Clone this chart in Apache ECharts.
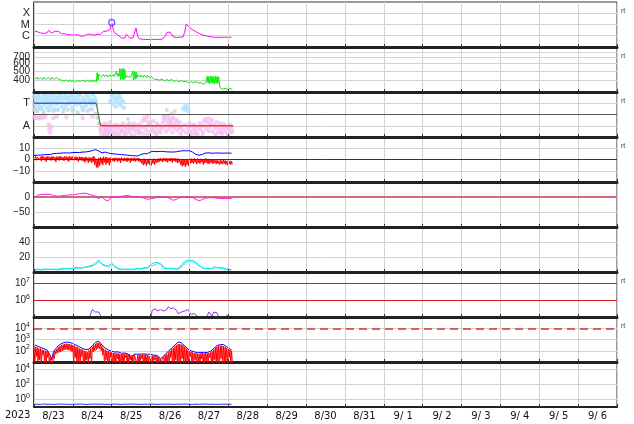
<!DOCTYPE html>
<html>
<head>
<meta charset="utf-8">
<script src="https://cdn.jsdelivr.net/npm/echarts@6.0.0/dist/echarts.min.js"></script>
<style>
html,body{margin:0;padding:0;background:#fff;}
#chart{width:634px;height:424px;}
</style>
</head>
<body>
<div id="chart"></div>
<script>
// ================= DATA =================
// time is counted in hours from 2023-08-23 00 UT
const yearLabel = '2023';
const dayLabels = ['8/23','8/24','8/25','8/26','8/27','8/28','8/29','8/30','8/31','9/ 1','9/ 2','9/ 3','9/ 4','9/ 5','9/ 6'];

// Panel 1: X-ray flux (W/m2), hourly
const xrayFlux = [
 2.7e-6,2.5e-6,2.3e-6,2.0e-6,1.8e-6,1.7e-6,1.6e-6,1.7e-6,1.8e-6,3.0e-6,
 2.0e-6,1.7e-6,1.5e-6,2.5e-6,2.0e-6,2.5e-6,1.7e-6,1.5e-6,1.35e-6,1.5e-6,
 1.35e-6,1.2e-6,1.35e-6,1.2e-6,1.1e-6,1.2e-6,1.35e-6,1.2e-6,1.1e-6,9e-7,
 9e-7,1.0e-6,1.1e-6,1.35e-6,1.7e-6,1.35e-6,1.2e-6,1.1e-6,1.2e-6,1.35e-6,
 1.2e-6,1.35e-6,1.7e-6,2.5e-6,3.0e-6,2.5e-6,3.4e-6,3.7e-6,1.5e-5,3.0e-6,
 1.7e-6,1.2e-6,1.1e-6,8e-7,6.5e-7,6.5e-7,6e-7,1.35e-6,1.1e-6,6.5e-7,
 6e-7,6e-7,6.5e-7,4.9e-6,9e-7,5.3e-7,5e-7,4.9e-7,4.8e-7,4.7e-7,
 4.8e-7,4.6e-7,4.7e-7,4.8e-7,4.6e-7,4.7e-7,4.9e-7,4.8e-7,4.7e-7,4.8e-7,
 5e-7,9e-7,2.0e-6,1.35e-6,2.1e-6,1.7e-6,8e-7,7.3e-7,7e-7,7.3e-7,
 7.5e-7,7.3e-7,7.5e-7,2.0e-6,1.05e-5,7.7e-6,5.6e-6,4.3e-6,3.4e-6,2.6e-6,
 2.25e-6,1.8e-6,1.6e-6,1.35e-6,1.2e-6,1.1e-6,1.0e-6,9e-7,8.5e-7,8e-7,
 7.8e-7,7.5e-7,7.3e-7,7.5e-7,7.3e-7,7.6e-7,7.4e-7,7.3e-7,7.5e-7,7.3e-7,
 7.2e-7,7.3e-7,7.4e-7
];
const flareMarks = [[48, 1.5e-5]];
const xrayClassVals = [1e-6, 1e-5, 1e-4];
const xrayClassText = ['C', 'M', 'X'];

// Panel 2: solar wind speed (km/s), hourly max / min
const speedHi = [
 432,428,430,425,428,424,430,426,422,428,425,430,424,420,426,422,
 405,402,406,400,404,398,403,400,405,399,402,397,404,400,398,403,399,401,397,402,400,404,398,
 482,465,
 458,455,460,452,456,450,455,452,458,454,
 500,472,532,528,535,522,
 448,445,450,442,
 502,495,490,
 455,452,454,450,452,448,450,446,448,
 425,420,
 412,410,414,408,411,407,410,406,409,405,408,
 400,398,401,397,399,396,398,395,
 390,388,391,386,389,385,387,384,386,
 378,375,377,374,
 442,438,445,440,436,442,438,435,
 333,330,332,328,330,327,329,326
];
const speedLo = [
 410,412,408,414,410,406,412,408,405,410,406,412,407,404,409,405,
 388,386,390,384,388,383,387,385,389,383,386,382,388,384,382,387,383,385,381,386,384,388,382,
 400,445,
 436,432,438,430,434,428,433,430,436,432,
 440,440,405,410,402,418,
 432,430,434,428,
 405,408,420,
 435,432,434,430,432,428,430,426,428,
 410,406,
 398,396,400,394,397,393,396,392,395,391,394,
 388,386,389,385,387,384,386,383,
 378,376,379,374,377,373,375,372,374,
 366,363,365,362,
 372,368,375,370,366,372,368,365,
 322,320,323,318,321,318,320,317
];
const speedLabelVals = [400, 500, 600, 700];
const speedGridVals = [400, 500, 600, 700, 800];

// Panel 3: sector polarity (T = +1, A = -1) and IMF direction dots [hour, value]
const sectorHours = [0, 38.5, 41, 123];
const sectorPolarity = [1, 1, -1, -1];
const sectorLabelVals = [-1, 1];
const sectorLabelText = ['A', 'T'];
const towardDots = [
 [0,1.5],[0,0.9],[0.5,1.8],[1,1.2],[1,0.6],[1.5,1.6],[2,1.0],[2.5,1.4],[3,0.8],[3,1.7],[4,1.3],[4.5,0.7],
 [5,1.5],[5.5,1.1],[6,1.8],[6.5,0.9],[7,1.4],[7.5,1.2],[8,0.6],[8.5,1.6],[9,1.0],[9.5,1.9],[10,1.3],[10.5,0.8],
 [11,1.5],[11.5,1.1],[12,1.7],[12.5,0.5],[13,1.2],[13.5,1.4],[14,0.9],[14.5,1.6],[15,1.1],[16,1.8],[16.5,1.3],
 [17,0.7],[17.5,1.5],[18,1.0],[19,1.4],[19.5,1.7],[20,0.8],[21,1.2],[21.5,1.5],[22,1.0],[23,1.3],[23.5,0.6],
 [24,1.6],[25,1.1],[25,1.95],[25.5,1.4],[26,0.9],[27,1.3],[27,1.9],[27.5,1.7],[28,1.0],[29,1.2],[29.5,0.7],[30,1.5],
 [31,1.1],[31.5,1.3],[32,0.8],[33,1.4],[33.5,1.0],[34,1.6],[35,1.2],[35.5,0.9],[36,1.3],[37,1.1],[37.5,1.5],[38,0.9],
 [0.8,0.5],[2.2,1.9],[3.6,0.55],[5.2,0.45],[6.8,1.65],[8.2,1.35],[9.8,0.45],[11.2,1.85],[12.8,1.0],[14.2,0.4],
 [15.6,1.5],[17.2,1.9],[18.6,0.5],[20.4,1.45],[22.6,1.75],[24.4,0.45],[26.6,1.55],[28.4,1.8],[30.6,0.5],
 [32.4,1.75],[34.4,0.45],[36.4,1.8],[38.3,1.2],
 [47,1.2],[48,1.7],[48.5,0.9],[49,1.4],[49.5,1.8],[50,1.1],[50.5,0.7],[51,1.5],[51.5,1.3],[52,1.9],[52.5,1.0],
 [53,1.6],[53.5,0.8],[54,1.3],[55,1.1],[55.5,0.6],
 [92,0.5],[93,0.7],[93.5,0.4],[94,0.8],[95,0.6],[95.5,0.3]
];
const grayDots = [
 [0,0.4],[2,0.3],[4,0.5],[6,0.2],[9,0.35],[12,0.3],[15,0.45],[18,0.25],[21,0.4],[24,0.3],[27,0.2],[30,0.35],
 [33,0.3],[36,0.45],[38,0.1],[39,-0.3],[40,-0.8],[41,-1.4],[43,-1.8],[44,-1.3],[45,-1.9],[46,-1.6],[48,-1.85],
 [50,-1.7],[52,-1.9],[54,-1.5],[56,-1.8],[58,-0.4],[59,-0.8],[60,-1.2],[62,-1.9],[65,-1.7],[70,-1.8],[75,-1.6],
 [80,-0.2],[82,0.4],[83,-0.1],[84,-0.5],[85,0.1],[86,-0.3],[87,0.3],[88,-0.6],[90,-1.2],[96,-1.8],[100,-1.7],
 [104,-1.9],[108,-1.5],[112,-1.8],[116,-1.6],[120,-1.9]
];
const awayDots = [
 [0,-0.2],[1,-0.3],[2,-0.15],[3,-0.35],[4,-0.2],[5,-0.3],[6,-0.1],[7,-0.25],[9,-0.9],[9.5,-1.3],[10,-1.6],[10.5,-1.1],
 [12,-0.3],[14,-0.2],[20,-0.25],[30,-0.3],[36,-0.2],
 [41,-1.2],[41.5,-1.7],[42,-0.9],[42.5,-1.5],[43,-1.1],[43.5,-1.8],[44,-0.8],[44.5,-1.4],[45,-1.6],[45.5,-1.0],
 [46,-1.3],[46.5,-1.9],[47,-0.7],[47.5,-1.2],[48,-1.5],[49,-1.0],[49.5,-1.7],[50,-1.3],[51,-0.9],[51.5,-1.6],
 [52,-1.2],[53,-1.8],[53.5,-1.0],[54,-1.4],[55,-0.8],[55.5,-1.5],[56,-1.1],[57,-1.7],[57.5,-1.3],[58,-0.9],
 [59,-1.5],[59.5,-1.1],[60,-1.8],[61,-1.2],[61.5,-0.8],[62,-1.4],[63,-1.0],[63.5,-1.6],[64,-1.3],[65,-0.9],
 [65.5,-1.5],[66,-1.1],[67,-0.6],[67.5,-1.7],[68,-0.3],[68.5,-1.2],[69,-0.5],[69.5,-1.4],[70,-0.2],[70.5,-1.0],
 [71,-0.7],[71.5,-1.6],[72,-0.9],[73,-1.3],[73.5,-0.6],[74,-1.5],[75,-1.1],[75.5,-1.8],[76,-0.8],[77,-1.4],
 [77.5,-1.0],[78,-1.6],[79,-1.2],[79.5,-0.7],[80,-0.3],[80.5,-1.1],[81,-0.5],[81.5,-1.5],[82,-0.2],[82.5,-0.9],
 [83,-0.6],[83.5,-1.3],[84,-0.4],[84.5,-1.0],[85,-0.7],[85.5,-1.6],[86,-0.3],[86.5,-1.2],[87,-0.8],[88,-0.5],
 [88.5,-1.4],[89,-1.0],[90,-0.7],[90.5,-1.7],[91,-1.1],[92,-1.4],[93,-0.9],[94,-1.6],[95,-1.2],[96,-0.8],
 [96.5,-1.5],[97,-1.0],[98,-1.7],[98.5,-1.3],[99,-0.9],[100,-1.5],[100.5,-1.1],[101,-1.8],[102,-1.2],[102.5,-0.8],
 [103,-1.4],[104,-1.0],[104.5,-1.6],[105,-0.6],[106,-0.4],[106.5,-1.3],[107,-0.7],[108,-0.35],[108.5,-1.1],
 [109,-0.8],[110,-0.5],[110.5,-1.5],[111,-0.9],[112,-1.2],[113,-0.7],[113.5,-1.6],[114,-1.1],[115,-1.4],
 [115.5,-0.8],[116,-1.7],[117,-1.2],[117.5,-0.9],[118,-1.5],[119,-1.1],[119.5,-1.8],[120,-1.3],[121,-0.9],
 [121.5,-1.6],[122,-1.2],[122.5,-1.5]
];

// Panel 4: IMF Bt and Bz (nT), hourly (Bz as hourly max/min)
const btValues = [
 3.6,3.9,3.8,4.1,4.0,4.3,4.2,4.5,4.4,4.6,4.5,4.8,
 5.2,5.0,5.4,5.3,5.6,5.5,5.8,5.6,5.9,6.0,5.8,6.1,6.2,6.0,6.3,6.5,6.2,6.4,6.6,6.5,6.7,
 6.9,7.2,7.6,7.9,8.3,8.8,9.0,
 7.5,6.2,5.9,6.4,6.6,6.1,5.7,
 5.3,5.2,5.0,4.9,4.8,4.6,4.5,4.4,4.2,4.1,4.0,3.8,3.7,3.5,3.4,3.3,3.2,3.1,3.3,
 4.5,5.3,5.2,5.4,5.1,5.6,
 6.8,7.2,7.3,7.1,7.0,7.3,7.2,6.9,7.1,7.0,6.8,6.9,6.7,6.8,6.6,
 6.7,6.9,7.1,7.4,7.6,7.8,8.0,7.7,7.5,7.8,7.2,6.5,
 4.8,4.5,4.0,3.8,3.9,4.6,
 5.6,5.8,5.7,5.9,5.8,5.6,5.8,5.7,5.9,5.8,5.7,5.6,5.8,5.7,5.6,5.7,5.6,5.6
];
const bzHi = [
 2.5,3.0,2.2,2.8,2.4,3.1,2.6,2.0,2.9,2.5,2.3,2.8,2.6,2.1,2.7,2.4,3.0,2.5,2.2,2.8,2.6,2.3,2.9,2.4,2.7,2.2,2.6,2.0,2.5,2.3,
 2.2,1.8,2.4,1.5,2.0,1.6,2.2,3.0,
 1.0,0.5,1.5,
 2.0,1.5,2.5,1.8,2.2,1.2,1.8,
 1.5,1.2,1.8,1.0,1.6,1.3,1.9,1.1,1.5,1.4,1.7,0.9,1.5,1.2,1.6,1.0,1.4,1.1,
 0.5,0.0,0.8,-0.5,0.3,0.6,-0.2,0.4,0.8,0.2,0.5,0.9,
 1.2,0.8,1.5,1.0,1.3,0.7,1.1,1.4,0.9,1.2,0.6,1.0,
 0.2,-0.5,0.5,0.0,0.4,-0.3,0.6,0.8,
 0.5,1.0,0.3,0.8,0.2,0.6,-0.2,0.4,0.9,0.1,0.5,-0.3,0.3,0.2,
 -0.8,-0.5,-1.2,-0.6,-1.0,-0.4,-0.9,-1.3,-0.7,-1.1,-1.5
];
const bzLo = [
 0.2,-0.8,0.5,-0.3,-1.5,0.0,-0.6,-2.0,0.3,-0.4,-1.0,0.1,-0.7,-2.2,-0.2,-0.9,0.4,-0.5,-1.2,-0.1,-0.8,-1.8,0.0,-0.6,-1.4,-0.2,-0.9,-2.0,-0.5,-1.1,
 -1.5,-2.5,-1.0,-2.8,-1.8,-3.0,-2.2,-4.5,
 -7.0,-7.2,-5.5,
 -3.5,-5.0,-2.5,-4.5,-3.0,-5.2,-2.8,
 -1.0,-2.0,-0.8,-1.8,-1.2,-3.0,-0.9,-1.6,-1.3,-2.2,-1.0,-2.8,-1.4,-1.1,-1.9,-0.9,-1.6,-2.0,
 -3.5,-5.0,-4.2,-5.5,-3.8,-4.8,-5.2,-3.6,-4.5,-3.0,-2.5,-2.0,
 -1.5,-2.2,-1.0,-1.8,-2.5,-1.2,-1.6,-2.8,-1.4,-2.0,-3.0,-2.5,
 -4.5,-6.0,-5.2,-6.5,-4.8,-5.8,-3.5,-3.0,
 -3.5,-2.5,-4.2,-3.0,-3.8,-2.2,-4.5,-3.2,-2.8,-4.0,-3.5,-2.6,-3.9,-3.0,
 -4.0,-3.5,-4.5,-3.8,-4.2,-3.6,-4.4,-5.0,-3.9,-4.6,-4.2
];
const imfLabelVals = [-10, 0, 10];

// Panel 5: Dst (nT), every 2 h
const dstValues = [
 -5,6,8,9,9,9,5,3,3,5, 6,7,7,9,11,12,13,9,6,2, -5,0,-10,-12,0,0,1,2,4,5,
 2,0,0,-1,-4,-8,-6,-4,-1,0, 0,-1,-5,-11,-8,-2,0,0,-1,-2, -8,-13,-8,-4,-2,-2,-3,-5,-5,-5, -5,-5
];
const dstLabelVals = [-50, 0];

// Panel 6: two cyan indices, every 2 h
const cyanA = [3,4,3,4,3,4,3,4,4,5, 4,5,5,6,5,6,6,8,9,12, 16,10,8,8,12,7,4,3,4,3,
 3,4,5,4,5,5,10,12,13,10, 5,4,5,4,4,6,12,15,16,14, 13,9,5,5,4,5,7,5,6,4, 4,3];
const cyanB = [2,3,3,3,4,3,4,3,3,4, 5,4,4,5,6,5,7,7,8,10, 14,11,9,7,10,8,5,4,3,4,
 4,3,4,4,6,6,8,9,11,12, 7,5,4,5,3,5,9,13,14,16, 11,8,6,4,5,4,6,6,4,5, 3,3];
const cyanLabelVals = [20, 40];

// Panel 7: electron flux, log10 values, hourly
const electronLog = [
 4.6,4.7,4.6,4.5,4.7,4.6,4.5,4.6,4.7,4.6, 4.5,4.6,4.7,4.6,4.5,4.6,4.7,4.6,4.5,4.6,
 4.7,4.6,4.5,4.6,4.7,4.6,4.5,4.6,4.7,4.8, 4.7,4.8,4.7,4.8,4.9,
 5.0,5.45,5.55,5.3,5.2,5.3,5.1,4.9,
 4.8,4.7,4.6,4.7,4.6,4.5,4.6,4.7,4.6,4.5,4.6,4.7,4.6,4.5,4.6,4.7,4.6,4.7,4.8,4.7,4.8,4.9,
 5.05,4.8,4.7,4.6,4.7,4.8,4.8,4.9,
 5.4,5.3,5.5,5.35,5.25,5.45,5.5,5.35,5.3,5.45,5.62,5.5,5.45,5.55,5.62,5.4,5.2,5.1,5.3,5.4,
 5.35,5.25,5.45,5.3,5.15,5.1,5.2,5.15,5.05,
 4.9,4.8,4.7,4.8,4.9,
 5.1,5.3,5.2,5.05,5.3,5.2,5.25,5.0,
 4.8,4.9,4.8,4.9,
 5.1,5.15,5.0,5.05
];
const electronThresholds = [1e6, 1e7];
const electronLabelVals = [1e6, 1e7];

// Panel 8: particle flux, log10 values, hourly (red as hourly max / min)
const fluxBlueLog = [
 2.57,2.5,2.42,2.36,2.3,2.24,2.18,2.12,2.08,2.04,
 1.6,1.2,1.9,2.1,2.3,2.4,2.55,2.62,2.7,2.74,
 2.78,2.76,2.74,2.7,2.65,2.58,2.5,2.42,2.35,2.28,
 2.2,2.15,2.1,2.05,2.15,2.3,2.45,2.6,2.75,2.85,
 2.85,2.7,2.5,2.35,2.25,2.15,2.05,2.0,1.95,1.9,
 1.88,1.85,1.9,1.82,1.78,1.85,1.8,1.75,1.72,1.78,
 1.25,1.5,1.72,1.6,1.68,1.75,1.7,1.78,1.72,1.75,
 1.68,1.62,1.7,1.65,1.6,1.68,1.6,1.5,1.3,1.15,
 1.5,1.7,1.8,1.95,2.1,2.25,2.35,2.5,2.65,2.78,
 2.75,2.7,2.63,2.45,2.3,2.15,2.05,2.0,1.95,1.9,
 1.85,1.82,1.8,1.85,1.88,1.82,1.9,1.85,1.88,1.95,
 2.05,2.2,2.35,2.45,2.5,2.55,2.57,2.55,2.45,2.35,
 2.25,2.2,2.05
];
const fluxRedHiLog = [
 2.45,2.35,2.3,2.2,2.2,2.1,2.05,2.0,1.95,1.9,
 1.5,1.1,1.75,2.0,2.15,2.3,2.4,2.5,2.55,2.6,
 2.65,2.6,2.6,2.55,2.5,2.45,2.35,2.3,2.2,2.15,
 2.1,2.0,1.95,1.9,2.05,2.2,2.35,2.5,2.6,2.7,
 2.7,2.6,2.4,2.2,2.1,2.0,1.95,1.9,1.85,1.8,
 1.8,1.75,1.8,1.72,1.7,1.75,1.72,1.68,1.65,1.7,
 1.62,1.58,1.65,1.55,1.6,1.68,1.62,1.7,1.65,1.68,
 1.6,1.55,1.62,1.58,1.52,1.6,1.52,1.45,1.3,1.2,
 1.45,1.6,1.7,1.85,2.0,2.15,2.25,2.4,2.5,2.6,
 2.6,2.55,2.5,2.35,2.2,2.05,1.95,1.9,1.85,1.8,
 1.78,1.75,1.72,1.78,1.8,1.75,1.82,1.78,1.8,1.85,
 1.95,2.1,2.25,2.35,2.4,2.45,2.45,2.42,2.35,2.25,
 2.15,2.1,2.0
];
const fluxRedLoLog = [
 0.8,1.5,0.8,1.2,0.8,1.6,0.9,0.8,1.4,0.8,0.8,0.8,1.3,
 1.7,1.8,1.85,1.9,2.0,2.05,2.1,2.1,2.05,2.0,1.9,
 0.8,1.4,0.8,1.1,0.8,1.5,0.8,0.8,1.2,0.8,1.3,0.8,
 1.9,2.0,2.1,2.2,2.2,2.0,1.6,
 0.8,1.2,0.8,0.8,1.4,0.8,1.0,0.8,1.3,0.8,
 0.8,1.1,0.8,1.4,0.8,0.8,1.2,0.8,0.8,1.5,
 0.8,1.0,0.8,1.3,0.8,0.8,1.1,0.8,1.4,0.8,
 0.8,1.2,0.8,0.8,1.0,0.8,1.3,0.8,0.8,1.1,
 0.8,1.4,0.8,0.8,1.2,0.8,1.0,0.8,1.3,0.8,
 0.8,1.1,0.8,1.5,0.8,0.8,1.2,0.8,1.0,0.8,
 1.3,0.8,0.8,1.1,0.8,1.4,0.8,0.8,1.2,0.8,
 1.0,0.8,1.3,0.8,0.8,1.1,0.8,1.4,0.8,0.8
];
const fluxThreshold = [1e4];
const fluxLabelVals = [1e2, 1e3, 1e4];

// Panel 9: low flux, every 2 h
const lowFlux = [0.23,0.24,0.22,0.25,0.23,0.24,0.22,0.23,0.25,0.24, 0.23,0.22,0.24,0.23,0.25,0.24,0.22,0.23,0.24,0.25,
 0.23,0.24,0.22,0.23,0.24,0.25,0.23,0.22,0.24,0.23, 0.25,0.24,0.23,0.22,0.24,0.23,0.25,0.24,0.22,0.23,
 0.24,0.23,0.25,0.22,0.24,0.23,0.24,0.25,0.23,0.22, 0.24,0.23,0.24,0.25,0.23,0.24,0.22,0.23,0.24,0.23, 0.24,0.23];
const lowLabelVals = [1, 1e2, 1e4];

const rtPanels = [0, 1, 2, 3, 6, 7];

// ================= BUILD =================
const HOURS_PER_DAY = 24;
const X_MAX = dayLabels.length * HOURS_PER_DAY;

const pow10 = e => Math.pow(10, e);
const stepSeries = (vals, stepH, f) => vals.map((v, i) => [i * stepH, f ? f(v) : v]);
const zigzag = (hi, lo, stepH, f) => {
  const out = [];
  for (let i = 0; i < hi.length; i++) {
    out.push([i * stepH, f ? f(hi[i]) : hi[i]]);
    out.push([(i + 0.5) * stepH, f ? f(lo[i]) : lo[i]]);
  }
  return out;
};

const N = 9, TOP0 = 2, PH = 45, LEFT = 34, RIGHT = 17;
const LABEL_FONT = 'Liberation Sans';
const RICH = {
  b: {fontSize: 10, fontFamily: LABEL_FONT, color: '#222', lineHeight: 9},
  s: {fontSize: 7, fontFamily: LABEL_FONT, color: '#222', lineHeight: 2, padding: [0, 0, 7, 0]},
  P: {fontSize: 10, fontFamily: LABEL_FONT, color: '#222', lineHeight: 4},
  L: {fontSize: 11, fontFamily: LABEL_FONT, color: '#222', lineHeight: 8}
};
const isIn = (list, v) => list.some(c => Math.abs(c - v) <= Math.abs(c) * 1e-6 + 1e-12);
const fmtPlain = list => v => isIn(list, v) ? '{P|' + (v < 0 ? '\u2212' + (-v) : '' + Math.round(v)) + '}' : '';
const fmtPow = list => v => isIn(list, v) ? '{b|10}{s|' + Math.round(Math.log10(v)) + '}' : '';
const fmtText = (list, texts) => v => {
  const k = list.findIndex(c => Math.abs(c - v) <= Math.abs(c) * 1e-6 + 1e-12);
  return k >= 0 ? '{L|' + texts[k] + '}' : '';
};
const fmtDay = v => {
  if (Math.round(v) % HOURS_PER_DAY !== HOURS_PER_DAY / 2) return '';
  return dayLabels[Math.floor(v / HOURS_PER_DAY)] || '';
};

const grid = [], xAxis = [], yAxis = [];
for (let i = 0; i < N; i++) {
  grid.push({left: LEFT, right: RIGHT, top: TOP0 + PH * i, height: PH, show: true,
    borderColor: '#333', borderWidth: 1, backgroundColor: '#fff'});
}
for (let i = 0; i < N; i++) {
  xAxis.push({
    type: 'value', gridIndex: i, min: 0, max: X_MAX, interval: HOURS_PER_DAY, position: 'bottom',
    axisLine: {show: true, onZero: false, lineStyle: {color: '#222', width: i < N - 1 ? 3 : 2}},
    axisTick: {show: true, inside: true, length: 3, lineStyle: {color: '#333', width: 1}},
    splitLine: {show: true, lineStyle: {color: '#d2d2d2', width: 1}},
    axisLabel: {show: false},
    z: 3
  });
}
for (let i = 0; i < N; i++) {
  xAxis.push({
    type: 'value', gridIndex: i, min: 0, max: X_MAX, interval: HOURS_PER_DAY, position: 'top',
    axisLine: {show: false, onZero: false},
    axisTick: {show: true, inside: true, length: 3, lineStyle: {color: '#333', width: 1}},
    splitLine: {show: false}, axisLabel: {show: false}
  });
}
// label axis for the bottom panel (labels at noon of each day)
xAxis.push({
  type: 'value', gridIndex: N - 1, min: 0, max: X_MAX, interval: HOURS_PER_DAY / 2, position: 'bottom',
  axisLine: {show: false, onZero: false}, axisTick: {show: false}, splitLine: {show: false},
  axisLabel: {show: true, formatter: fmtDay, fontFamily: 'DejaVu Sans', fontSize: 10, color: '#111', margin: 4,
    showMinLabel: true, showMaxLabel: true}
});

// y axis: when labels sit close together, they are padded with empty labels just inside
// both ends, so the library's min/max label check drops an empty one instead of a real one
function yAx(i, axisCfg, labels, ticks, fmt, pad) {
  const isLog = axisCfg.type === 'log';
  const lo = isLog ? axisCfg.min * 1.0001 : axisCfg.min;
  const hi = isLog ? axisCfg.max * 0.9999 : axisCfg.max;
  const labelCfg = pad
    ? {customValues: [lo].concat(labels, [hi])}
    : {customValues: labels, showMinLabel: true, showMaxLabel: true, hideOverlap: false, lineHeight: 4};
  return Object.assign({
    gridIndex: i, position: 'left',
    axisLine: {show: true, onZero: false, lineStyle: {color: '#222', width: 1.5}},
    axisTick: {show: false, customValues: ticks},
    axisLabel: Object.assign({show: true, formatter: fmt, fontFamily: LABEL_FONT,
      fontSize: 10, color: '#222', margin: 4, rich: RICH}, labelCfg),
    splitLine: {show: true, lineStyle: {color: '#d2d2d2', width: 1}}
  }, axisCfg);
}
yAxis.push(yAx(0, {type: 'log', logBase: 10, min: 1e-7, max: 1e-3}, xrayClassVals, xrayClassVals, fmtText(xrayClassVals, xrayClassText), true));
yAxis.push(yAx(1, {type: 'log', logBase: 10, min: 300, max: 900}, speedLabelVals, speedGridVals, fmtPlain(speedLabelVals), true));
yAxis.push(yAx(2, {type: 'value', min: -2, max: 2}, sectorLabelVals, sectorLabelVals, fmtText(sectorLabelVals, sectorLabelText), true));
yAxis.push(yAx(3, {type: 'value', min: -20, max: 20}, imfLabelVals, imfLabelVals, fmtPlain(imfLabelVals), true));
yAxis.push(yAx(4, {type: 'value', min: -100, max: 50}, dstLabelVals, dstLabelVals, fmtPlain(dstLabelVals), true));
yAxis.push(yAx(5, {type: 'value', min: 0, max: 60}, cyanLabelVals, cyanLabelVals, fmtPlain(cyanLabelVals), true));
yAxis.push(yAx(6, {type: 'log', logBase: 10, min: 1e5, max: 5e7}, electronLabelVals, electronLabelVals, fmtPow(electronLabelVals), true));
yAxis.push(yAx(7, {type: 'log', logBase: 10, min: 10, max: 1e5}, fluxLabelVals, fluxLabelVals, fmtPow(fluxLabelVals), true));
yAxis.push(yAx(8, {type: 'log', logBase: 10, min: 0.1, max: 1e5}, lowLabelVals, lowLabelVals, fmtPow(lowLabelVals), false));

const base = {showSymbol: false, symbol: 'none', silent: true, animation: false, emphasis: {disabled: true}};
const line = (gi, data, color, width, z) => Object.assign({type: 'line', xAxisIndex: gi, yAxisIndex: gi, data,
  lineStyle: {color, width: width || 1}, itemStyle: {color}, z: z || 2}, base);
const dots = (gi, data, color, size) => ({type: 'scatter', xAxisIndex: gi, yAxisIndex: gi, data, symbol: 'rect',
  symbolSize: size || 3, itemStyle: {color}, silent: true, animation: false, z: 1});
const refLine = (gi, values, color, width, type) => ({type: 'line', xAxisIndex: gi, yAxisIndex: gi, data: [],
  silent: true, animation: false, markLine: {silent: true, symbol: ['none', 'none'], label: {show: false},
    animation: false, lineStyle: {color, width, type: type || 'solid'}, emphasis: {disabled: true},
    data: values.map(v => ({yAxis: v}))}});

const sectorSeg = (a, b) => [[sectorHours[a], sectorPolarity[a]], [sectorHours[b], sectorPolarity[b]]];

const series = [
  line(0, stepSeries(xrayFlux, 1), '#ff00ff'),
  {type: 'scatter', xAxisIndex: 0, yAxisIndex: 0, data: flareMarks, symbol: 'circle', symbolSize: 6,
   itemStyle: {color: 'rgba(0,0,0,0)', borderColor: '#4040ff', borderWidth: 1.3}, silent: true, animation: false, z: 4},
  line(1, zigzag(speedHi, speedLo, 1), '#00ee00'),
  dots(2, grayDots, '#cfcfcf', 3.5),
  dots(2, towardDots, '#aee3fb', 4),
  dots(2, awayDots, '#f9bdf0', 4),
  refLine(2, [0], '#555555', 1),
  line(2, sectorSeg(0, 1), '#4455ee', 1.3, 3),
  line(2, sectorSeg(1, 2), '#448844', 1.3, 3),
  line(2, sectorSeg(2, 3), '#ee3333', 1.3, 3),
  refLine(3, [0], '#aa0000', 1),
  line(3, zigzag(bzHi, bzLo, 1), '#ff0000'),
  line(3, stepSeries(btValues, 1), '#0000ff', 1, 3),
  refLine(4, [0], '#d46a75', 2),
  line(4, stepSeries(dstValues, 2), '#ee22ee', 1, 6),
  line(5, stepSeries(cyanB, 2), '#22eeee'),
  line(5, stepSeries(cyanA, 2), '#00e5ee'),
  refLine(6, electronThresholds, '#cc2222', 1),
  line(6, stepSeries(electronLog, 1, pow10), '#9933dd'),
  refLine(7, fluxThreshold, '#dd3333', 1.5, [8, 5]),
  line(7, stepSeries(fluxBlueLog, 1, pow10), '#0000ff'),
  line(7, zigzag(fluxRedHiLog, fluxRedLoLog, 1, pow10), '#ff0000', 1, 3),
  line(8, stepSeries(lowFlux, 2), '#2233ee')
];

const graphic = [
  {type: 'text', left: 5, top: 410, silent: true,
   style: {text: yearLabel, font: '10px "DejaVu Sans"', fill: '#111'}}
].concat(rtPanels.map(i => ({type: 'text', left: 621, top: TOP0 + PH * i + 6, silent: true,
   style: {text: 'rt', font: '7px "Liberation Sans"', fill: '#444'}})));

const chart = echarts.init(document.getElementById('chart'), null, {renderer: 'canvas', width: 634, height: 424});
chart.setOption({
  animation: false,
  backgroundColor: '#fff',
  grid, xAxis, yAxis, series, graphic
});
</script>
</body>
</html>
